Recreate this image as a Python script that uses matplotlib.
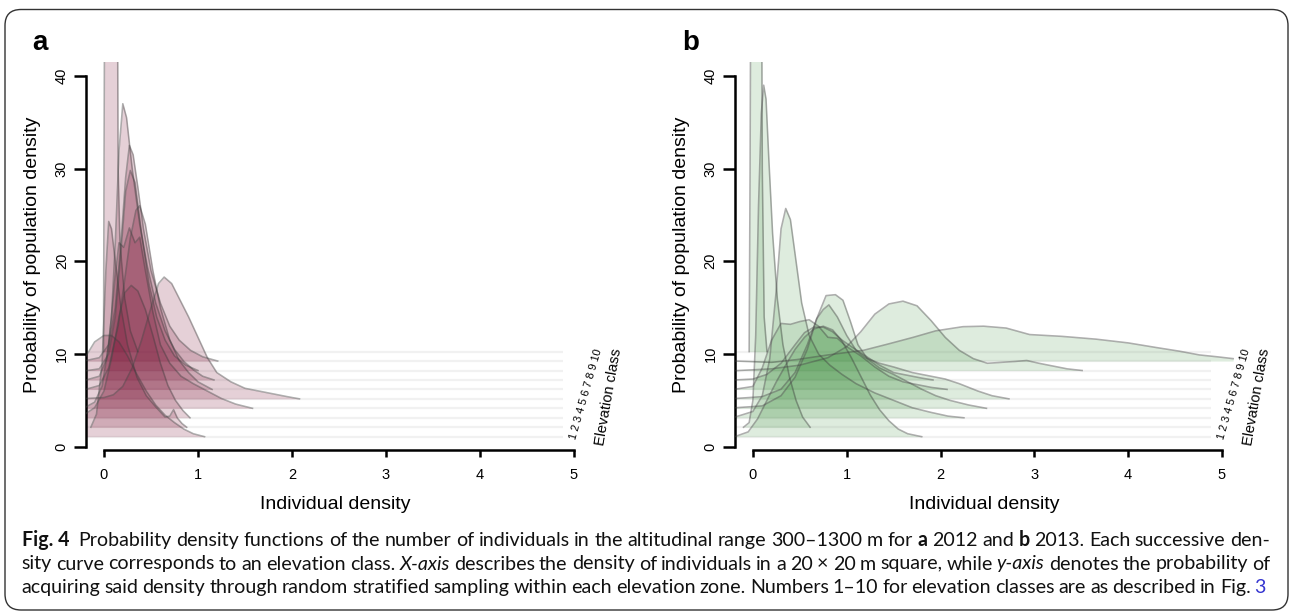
import numpy as np
import matplotlib
matplotlib.use("Agg")
import matplotlib.pyplot as plt
from matplotlib.patches import FancyBboxPatch
from matplotlib.transforms import IdentityTransform

W, H = 1290, 613
AX_FONT = ["Liberation Sans", "DejaVu Sans"]
CAP_FONT = ["Lato", "DejaVu Sans"]

# ---------------- data ----------------
classes = [1, 2, 3, 4, 5, 6, 7, 8, 9, 10]
baselines = [1.08, 2.10, 3.12, 4.14, 5.16, 6.18, 7.20, 8.22, 9.24, 10.26]
x_ticks = [0, 1, 2, 3, 4, 5]
y_ticks = [0, 10, 20, 30, 40]

# panel a (2012): density curves per elevation class (absolute heights incl. offset)
a_x = [
    [-0.19, -0.10, 0.00, 0.08, 0.16, 0.25, 0.35, 0.45, 0.55, 0.65, 0.75, 0.85, 0.95, 1.07],
    [-0.14, -0.08, -0.02, 0.02, 0.05, 0.08, 0.12, 0.18, 0.25, 0.35, 0.45, 0.55, 0.65, 0.70, 0.74, 0.78, 0.83, 0.88],
    [-0.19, -0.10, 0.00, 0.08, 0.16, 0.22, 0.29, 0.36, 0.44, 0.52, 0.60, 0.68, 0.76, 0.84, 0.915],
    [-0.19, -0.10, -0.02, 0.05, 0.12, 0.16, 0.21, 0.27, 0.33, 0.38, 0.44, 0.52, 0.60, 0.70, 0.82, 0.95, 1.10, 1.25, 1.40, 1.58],
    [-0.19, 0.00, 0.10, 0.20, 0.30, 0.40, 0.50, 0.58, 0.64, 0.72, 0.80, 0.90, 1.00, 1.10, 1.20, 1.35, 1.50, 1.65, 1.80, 1.95, 2.08],
    [-0.19, -0.05, 0.05, 0.15, 0.22, 0.28, 0.34, 0.38, 0.44, 0.52, 0.60, 0.70, 0.80, 0.90, 1.00, 1.15],
    [-0.19, -0.05, 0.03, 0.08, 0.12, 0.16, 0.20, 0.24, 0.30, 0.38, 0.46, 0.55, 0.65, 0.75, 0.85, 0.95, 1.05, 1.17],
    [-0.19, -0.05, 0.05, 0.12, 0.18, 0.23, 0.28, 0.33, 0.40, 0.48, 0.56, 0.65, 0.75, 0.87, 1.00],
    [-0.19, -0.05, 0.05, 0.12, 0.18, 0.23, 0.27, 0.31, 0.36, 0.42, 0.50, 0.60, 0.70, 0.80, 0.92, 1.05, 1.21],
    [-0.005, 0.0, 0.01, 0.14, 0.15, 0.17, 0.22, 0.28, 0.36],
]
a_y = [
    [9.8, 11.3, 12.0, 12.0, 11.3, 9.8, 7.8, 6.0, 4.5, 3.4, 2.6, 1.9, 1.4, 1.08],
    [2.1, 3.5, 9.0, 19.0, 24.3, 23.5, 20.0, 15.0, 11.0, 7.5, 5.5, 4.3, 3.2, 3.3, 4.0, 3.1, 2.5, 2.1],
    [3.6, 4.2, 6.0, 9.5, 14.0, 16.6, 17.4, 16.8, 14.8, 12.0, 9.0, 6.6, 5.0, 3.9, 3.12],
    [4.3, 4.8, 6.5, 11.0, 18.5, 22.0, 21.5, 23.6, 22.0, 22.6, 19.0, 14.5, 11.0, 9.0, 7.6, 6.8, 6.0, 5.2, 4.6, 4.14],
    [5.2, 5.3, 5.6, 6.5, 8.5, 11.5, 15.0, 17.6, 18.3, 17.6, 16.0, 14.0, 11.8, 9.6, 8.0, 7.0, 6.3, 6.0, 5.7, 5.4, 5.16],
    [6.2, 6.6, 8.5, 13.0, 18.0, 22.5, 25.5, 26.0, 24.0, 19.0, 15.0, 11.5, 9.3, 8.0, 7.0, 6.18],
    [7.2, 7.6, 9.5, 14.0, 22.0, 32.0, 37.0, 35.5, 30.0, 24.0, 19.5, 15.5, 12.5, 10.5, 9.2, 8.3, 7.6, 7.2],
    [8.2, 8.4, 10.0, 14.0, 21.0, 27.5, 29.8, 28.5, 23.0, 17.5, 14.0, 11.5, 9.8, 8.8, 8.22],
    [9.3, 9.6, 11.0, 15.0, 22.0, 29.0, 32.5, 31.5, 28.0, 23.5, 19.0, 15.5, 13.0, 11.5, 10.4, 9.7, 9.24],
    [10.26, 30.0, 60.0, 60.0, 30.0, 22.0, 16.0, 12.5, 10.26],
]

# panel b (2013)
b_x = [
    [-0.19, -0.05, 0.05, 0.15, 0.25, 0.35, 0.45, 0.55, 0.65, 0.75, 0.85, 0.95, 1.05, 1.15, 1.25, 1.35, 1.45, 1.55, 1.65, 1.80],
    [-0.10, -0.04, 0.00, 0.03, 0.06, 0.09, 0.115, 0.14, 0.17, 0.21, 0.26, 0.32, 0.39, 0.46, 0.53, 0.61],
    [-0.19, 0.00, 0.10, 0.18, 0.25, 0.30, 0.35, 0.40, 0.46, 0.52, 0.60, 0.70, 0.82, 0.95, 1.10, 1.30, 1.50, 1.70, 1.90, 2.08, 2.25],
    [-0.19, 0.10, 0.30, 0.45, 0.58, 0.68, 0.78, 0.88, 0.96, 1.04, 1.12, 1.22, 1.35, 1.50, 1.65, 1.80, 1.95, 2.10, 2.30, 2.49],
    [-0.19, 0.10, 0.30, 0.45, 0.58, 0.68, 0.75, 0.81, 0.90, 1.00, 1.10, 1.20, 1.35, 1.50, 1.70, 1.90, 2.05, 2.20, 2.40, 2.55, 2.73],
    [-0.19, 0.00, 0.10, 0.20, 0.30, 0.40, 0.50, 0.60, 0.70, 0.80, 0.90, 1.00, 1.15, 1.30, 1.45, 1.60, 1.75, 1.90, 2.07],
    [-0.19, 0.00, 0.15, 0.30, 0.45, 0.55, 0.65, 0.75, 0.85, 0.95, 1.05, 1.20, 1.35, 1.50, 1.65, 1.80, 1.92],
    [-0.19, 0.20, 0.50, 0.80, 1.00, 1.15, 1.30, 1.45, 1.60, 1.75, 1.90, 2.05, 2.20, 2.35, 2.50, 2.65, 2.80, 2.92, 3.05, 3.20, 3.35, 3.51],
    [-0.19, 0.20, 0.47, 0.80, 1.18, 1.45, 1.71, 1.95, 2.24, 2.46, 2.70, 2.95, 3.30, 3.66, 4.00, 4.30, 4.55, 4.76, 4.95, 5.12],
    [-0.04, -0.03, -0.02, 0.09, 0.10, 0.12, 0.15],
]
b_y = [
    [1.1, 1.6, 3.0, 5.0, 7.0, 8.8, 10.5, 11.8, 12.7, 13.0, 12.6, 11.4, 9.6, 7.6, 5.6, 4.0, 2.8, 1.9, 1.4, 1.08],
    [2.1, 2.6, 5.0, 12.0, 26.0, 36.0, 39.0, 37.5, 31.0, 23.0, 16.0, 11.0, 7.5, 5.0, 3.2, 2.1],
    [3.2, 3.8, 5.5, 9.5, 17.0, 23.5, 25.7, 24.5, 20.0, 15.5, 12.0, 10.0, 8.8, 7.8, 6.8, 5.8, 5.0, 4.2, 3.7, 3.3, 3.12],
    [4.2, 4.4, 5.5, 7.5, 10.5, 13.8, 16.3, 16.4, 15.8, 13.5, 11.0, 9.5, 8.5, 7.8, 7.0, 6.2, 5.5, 5.0, 4.5, 4.14],
    [5.2, 5.4, 6.2, 8.0, 11.0, 13.8, 14.8, 15.3, 14.0, 12.0, 10.4, 9.6, 9.0, 8.6, 8.0, 7.6, 7.3, 6.8, 6.0, 5.5, 5.16],
    [6.2, 6.5, 8.5, 11.5, 13.3, 13.2, 13.5, 13.7, 13.0, 11.8, 11.7, 10.8, 9.8, 8.6, 7.6, 7.0, 6.7, 6.4, 6.18],
    [7.2, 7.3, 7.8, 9.0, 11.0, 12.3, 12.9, 12.9, 12.4, 11.5, 10.8, 9.8, 8.8, 8.0, 7.7, 7.4, 7.2],
    [8.2, 8.4, 8.8, 9.6, 10.8, 12.4, 14.3, 15.4, 15.7, 15.2, 13.6, 11.8, 10.4, 9.5, 9.0, 9.1, 9.2, 9.3, 9.0, 8.7, 8.4, 8.22],
    [9.24, 9.1, 9.4, 9.9, 10.4, 11.1, 11.8, 12.5, 12.95, 13.0, 12.8, 12.1, 11.9, 11.6, 11.2, 10.7, 10.3, 9.9, 9.7, 9.5],
    [10.26, 30.0, 60.0, 60.0, 30.0, 14.0, 10.26],
]

caption_lines = [
    [("Fig.\u00a04", "bk"),
     ("Probability density functions of the number of individuals in the altitudinal range 300\u20131300 m for", ""),
     ("a", "b"), ("2012 and", ""), ("b", "b"), ("2013. Each successive den-", "")],
    [("sity curve corresponds to an elevation class.", ""), ("X-axis", "i"),
     ("describes the density of individuals in a 20 \u00d7 20 m square, while", ""), ("y-axis", "i"),
     ("denotes the probability of", "")],
    [("acquiring said density through random stratified sampling within each elevation zone. Numbers 1\u201310 for elevation classes are as described in Fig.", ""),
     ("3", "l")],
]

# ---------------- layout ----------------
fig = plt.figure(figsize=(W / 100, H / 100), dpi=100)
fig.patch.set_facecolor("white")

Y0_PX, YUNIT = 446.7, 9.27
XL, XR, YB, YT = -0.19, 5.3, -0.36, 41.5


def make_panel(x0_px, xunit, cx, cy, fill_col, alpha, letter, letter_px):
    left = x0_px + XL * xunit
    right = x0_px + XR * xunit
    bot = Y0_PX - YB * YUNIT
    top = Y0_PX - YT * YUNIT
    ax = fig.add_axes([left / W, 1 - bot / H, (right - left) / W, (bot - top) / H])
    ax.set_xlim(XL, XR)
    ax.set_ylim(YB, YT)
    ax.patch.set_alpha(0)
    for s in ("top", "right"):
        ax.spines[s].set_visible(False)
    ax.spines["left"].set_bounds(0, 40)
    ax.spines["bottom"].set_bounds(0, 5)
    for s in ("left", "bottom"):
        ax.spines[s].set_linewidth(1.8)
        ax.spines[s].set_color("black")
    ax.set_xticks(x_ticks)
    ax.set_xticklabels([str(v) for v in x_ticks], family=AX_FONT, fontsize=10.5)
    ax.set_yticks(y_ticks)
    ax.set_yticklabels([str(v) for v in y_ticks], family=AX_FONT, fontsize=10.5,
                       rotation=90, va="center")
    ax.tick_params(axis="y", length=8.5, width=1.8, pad=4)
    ax.tick_params(axis="x", length=5, width=1.8, pad=8)

    # faint baselines
    for b in baselines:
        ax.plot([XL, 4.88], [b, b], color="#f1f1f1", lw=1.6, zorder=1,
                solid_capstyle="butt")
    for i in range(len(classes) - 1, -1, -1):
        xs = np.asarray(cx[i]); ys = np.asarray(cy[i])
        ax.fill_between(xs, baselines[i], ys, color=fill_col, alpha=alpha, lw=0, zorder=2)
        ax.plot(xs, ys, color="#404040", alpha=0.42, lw=1.15, zorder=3)

    ax.text(5.13, 5.63, " ".join(str(c) for c in classes), rotation=74, fontsize=7.8,
            family=AX_FONT, ha="center", va="center", clip_on=False)
    ax.text(5.37, 5.36, "Elevation class", rotation=80, fontsize=10.5, family=AX_FONT,
            ha="center", va="center", clip_on=False)

    fig.text(letter_px / W, 1 - 50 / H, letter, fontsize=20, fontweight="bold",
             family=AX_FONT, ha="left", va="baseline")
    fig.text((x0_px + 231) / W, 1 - 509 / H, "Individual density", fontsize=14,
             family=AX_FONT, ha="center", va="baseline")
    fig.text((left - 53.5) / W, 1 - 255 / H, "Probability of population density",
             fontsize=14, family=AX_FONT, rotation=90, ha="center", va="center")
    return ax


make_panel(104.0, 94.0, a_x, a_y, "#7d1738", 0.2, "a", 32)
make_panel(752.9, 93.8, b_x, b_y, "#3f8f3f", 0.17, "b", 682)

# border
border = FancyBboxPatch((5, H - 610), 1283, 600.5,
                        boxstyle="round,pad=0,rounding_size=16",
                        transform=IdentityTransform(), fill=False,
                        ec="#333333", lw=1.0)
fig.add_artist(border)

# caption
renderer = fig.canvas.get_renderer()


def tok_props(style):
    kw = {"color": "#111111"}
    if "b" in style:
        kw["fontweight"] = "bold"
    if "i" in style:
        kw["fontstyle"] = "italic"
    if "l" in style:
        kw["color"] = "#3535d0"
    return kw


full1 = " ".join(s for s, _ in caption_lines[0])
probe = fig.text(0, 0, full1, fontsize=13, family=CAP_FONT, transform=IdentityTransform())
nat_w = probe.get_window_extent(renderer).width
probe.remove()
CAP_X0, CAP_X1 = 21.5, 1270.0
cap_size = 13 * (CAP_X1 - CAP_X0) / nat_w

cap_baselines = [546, 569.5, 593]
cap_right = [1270, 1270, 1266]
for li, segs in enumerate(caption_lines):
    tokens = []
    for s, st in segs:
        if "k" in st:
            tokens.append((s, st))
        else:
            tokens.extend((w, st) for w in s.split(" "))
    texts = []
    for w, st in tokens:
        t = fig.text(0, H - cap_baselines[li], w, fontsize=cap_size, family=CAP_FONT,
                     ha="left", va="baseline", transform=IdentityTransform(),
                     **tok_props(st))
        texts.append(t)
    widths = [t.get_window_extent(renderer).width for t in texts]
    weights = [1.0] * (len(texts) - 1)
    if li == 0:
        weights[0] = 2.0
    gap = (cap_right[li] - CAP_X0 - sum(widths)) / sum(weights)
    x = CAP_X0
    for k, t in enumerate(texts):
        t.set_x(x)
        x += widths[k]
        if k < len(weights):
            x += gap * weights[k]

fig.savefig("out.png", dpi=100, facecolor="white")
